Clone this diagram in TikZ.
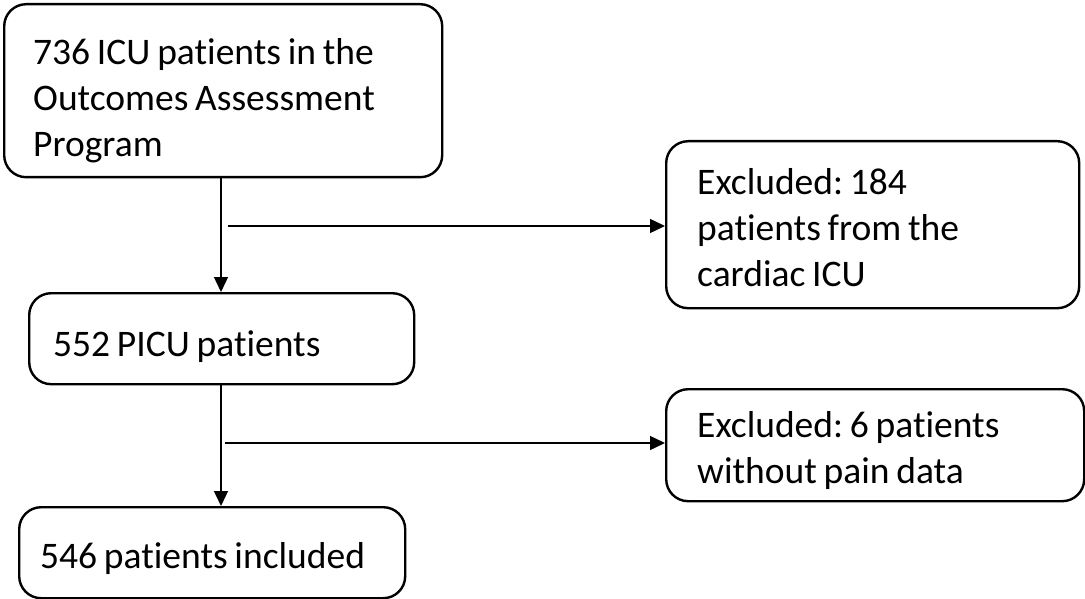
\documentclass[tikz,border=0pt]{standalone}
\usepackage{fontspec}
\setmainfont{Carlito}[Ligatures=NoCommon, WordSpace=0.8]
\frenchspacing
\usetikzlibrary{arrows.meta}
\begin{document}
\begin{tikzpicture}[x=1pt,y=-1pt,
  box/.style={draw=black, line width=2.4pt, rounded corners=22pt, anchor=north west, inner sep=0pt},
  txt/.style={anchor=base west, inner sep=0pt, font=\fontsize{37.5}{46}\selectfont},
  arr/.style={line width=1.4pt, -{Triangle[length=15pt,width=14pt]}}]
\useasboundingbox (0,0) rectangle (1085,599);
\node[box, minimum width=438pt, minimum height=173pt] (b1) at (3,3) {};
\node[box, minimum width=413pt, minimum height=167pt] (b2) at (665,140) {};
\node[box, minimum width=385pt, minimum height=91pt] (b3) at (28,292) {};
\node[box, minimum width=418pt, minimum height=112pt] (b4) at (665,388) {};
\node[box, minimum width=386pt, minimum height=91pt] (b5) at (18,506) {};
\node[txt] (t1) at (33,65) {\begin{tabular}[t]{@{}l@{}}736 ICU patients in the\\Outcomes Assessment\\Program\end{tabular}};
\node[txt] (t2) at (697,195) {\begin{tabular}[t]{@{}l@{}}Excluded: 184\\patients from the\\cardiac ICU\end{tabular}};
\node[txt] (t3) at (53,356) {552 PICU patients};
\node[txt] (t4) at (697,437) {\begin{tabular}[t]{@{}l@{}}Excluded: 6 patients\\without pain data\end{tabular}};
\node[txt] (t5) at (40,568) {546 patients included};
\coordinate (spine) at (221,0);
\coordinate (j1) at (228,226);
\coordinate (j2) at (225,443);
\draw[arr] (b1.south -| spine) -- (b3.north -| spine);
\draw[arr] (b3.south -| spine) -- (b5.north -| spine);
\draw[arr] (j1) -- (j1 -| b2.west);
\draw[arr] (j2) -- (j2 -| b4.west);
\end{tikzpicture}
\end{document}
